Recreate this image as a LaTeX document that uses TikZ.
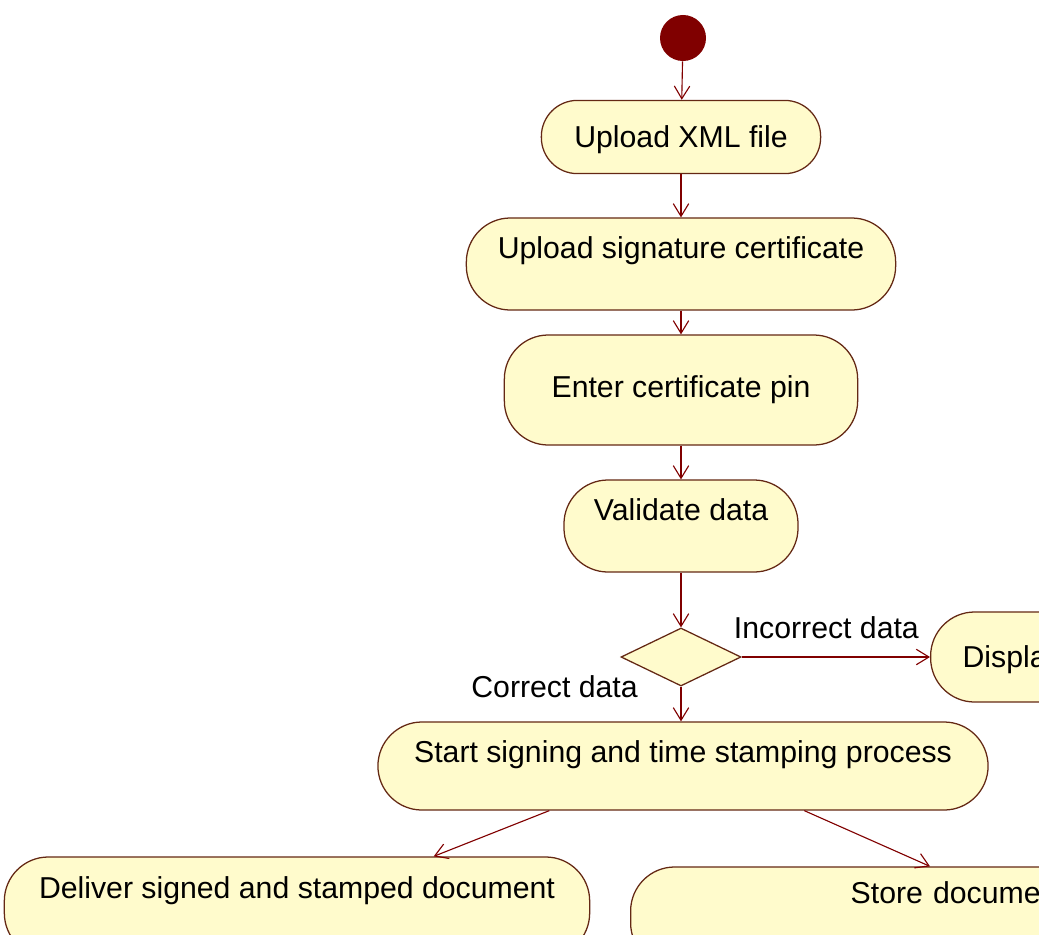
\documentclass[tikz,border=0pt]{standalone}
\usepackage{fontspec}
\setmainfont{Liberation Sans}
\usepackage{xcolor}
\usetikzlibrary{arrows.meta}
\usetikzlibrary{shapes.geometric,calc}
\definecolor{actfill}{RGB}{255,251,204}
\definecolor{actline}{RGB}{100,40,20}
\definecolor{flowred}{RGB}{128,0,0}
\tikzset{
    activity/.style={
        draw=actline,
        fill=actfill,
        rounded corners=1.1cm,
        line width=0.9pt,
        text height=15pt,
        text depth=0pt,
        inner xsep=0pt,
        inner ysep=0pt
    },
    flow/.style={
        draw=flowred,
        line width=0.8pt,
        -{Straight Barb[length=9pt, width=11pt]}
    }
}

\begin{document}
\begin{tikzpicture}[x=0.025cm, y=-0.025cm,
    every node/.style={font=\fontsize{21.5}{26}\selectfont}]
    \useasboundingbox (0,0) rectangle (1039,934);
    \clip (0,0) rectangle (1039,934);
    % Activities
    \node[circle, fill=flowred, minimum size=1.15cm, inner sep=0pt] (start) at (683,38) {};
    \node[activity, rounded corners=0.9cm, minimum width=6.98cm, minimum height=1.83cm] (upxml) at (681,137) {Upload XML file};
    \node[activity, minimum width=10.73cm, minimum height=2.3cm, text depth=23pt] (upsig) at (681,264) {Upload signature certificate};
    \node[activity, minimum width=8.83cm, minimum height=2.75cm, text depth=4pt] (enter) at (681,390) {Enter certificate pin};
    \node[activity, minimum width=5.85cm, minimum height=2.3cm, text depth=23pt] (valid) at (681,526) {Validate data};
    \node[diamond, draw=actline, fill=actfill, line width=0.9pt, minimum width=3cm, minimum height=1.45cm, inner sep=0pt] (dec) at (681,657) {};
    \node[activity, anchor=west, minimum height=2.25cm, text width=5cm, align=left, inner xsep=0.8cm] (disp) at (930,657) {Displa};
    \node[activity, minimum width=15.25cm, minimum height=2.2cm, text depth=20pt] (sign) at (683,766) {Start signing and time stamping process};
    \node[activity, minimum width=14.63cm, minimum height=2.5cm, text depth=27pt] (deliv) at (297,907) {Deliver signed and stamped document};
    \node[activity, anchor=west, minimum height=2.5cm, text width=7cm, align=left, inner xsep=5.5cm, text depth=34pt] (store) at (630,917) {Store docume};

    % Flows
    \draw[flow] (start) -- (upxml);
    \draw[flow] (upxml) -- (upsig);
    \draw[flow] (upsig) -- (enter);
    \draw[flow] (enter) -- (valid);
    \draw[flow] (valid) -- (dec);
    \draw[flow] (dec) -- node[pos=0.45, above=9pt] (inc) {Incorrect data} (disp);
    \draw[flow] (dec.south) -- node[pos=0, left=0.95cm] (cor) {Correct data} (dec.south |- sign.north);
    \draw[flow] ($(sign.south west)+(172,0)$) -- ($(deliv.north west)+(430,0)$);
    \draw[flow] ($(sign.south west)+(427,0)$) -- ($(store.north west)+(300,0)$);
\end{tikzpicture}
\end{document}
